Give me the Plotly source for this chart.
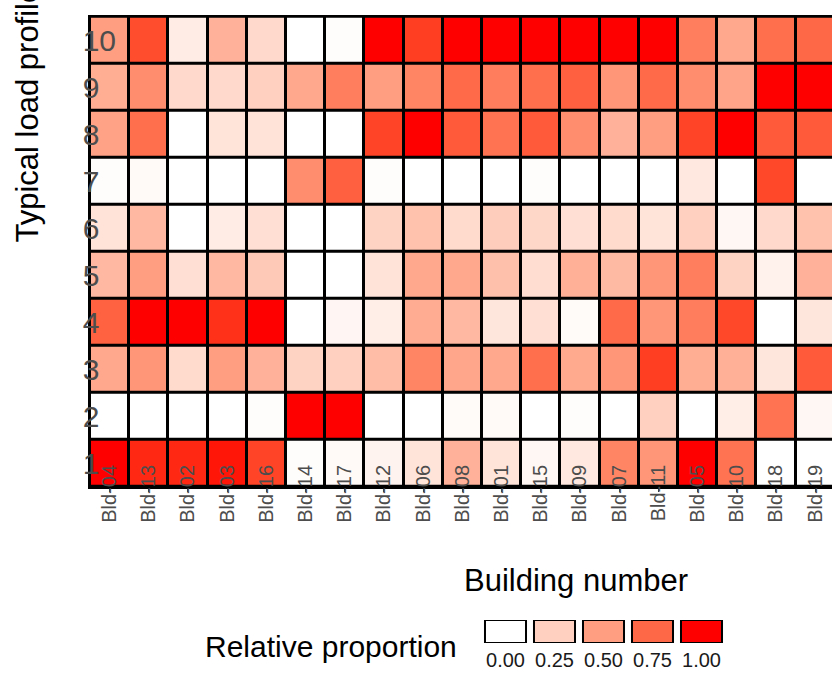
import plotly.graph_objects as go

# Buildings in display order and the typical load profiles (rows)
buildings = ["Bld-04", "Bld-13", "Bld-02", "Bld-03", "Bld-16", "Bld-14", "Bld-17",
             "Bld-12", "Bld-06", "Bld-08", "Bld-01", "Bld-15", "Bld-09", "Bld-07",
             "Bld-11", "Bld-05", "Bld-10", "Bld-18", "Bld-19"]
profiles = [1, 2, 3, 4, 5, 6, 7, 8, 9, 10]

# Relative proportion of each typical load profile per building
profile_1 = [1.00, 0.95, 0.95, 0.98, 0.88, 0.01, 0.03, 0.06, 0.14, 0.40, 0.14, 0.04, 0.12, 0.62, 0.54, 1.00, 0.70, 0.00, 0.00]
profile_2 = [0.00, 0.00, 0.00, 0.00, 0.01, 1.00, 1.00, 0.00, 0.00, 0.02, 0.03, 0.00, 0.01, 0.00, 0.25, 0.00, 0.09, 0.70, 0.04]
profile_3 = [0.45, 0.54, 0.19, 0.50, 0.40, 0.23, 0.25, 0.35, 0.62, 0.46, 0.45, 0.72, 0.44, 0.54, 0.90, 0.42, 0.41, 0.13, 0.80]
profile_4 = [0.77, 1.00, 1.00, 0.93, 1.00, 0.00, 0.05, 0.09, 0.43, 0.37, 0.13, 0.17, 0.02, 0.74, 0.54, 0.66, 0.87, 0.00, 0.13]
profile_5 = [0.37, 0.50, 0.17, 0.37, 0.28, 0.00, 0.00, 0.15, 0.45, 0.45, 0.33, 0.18, 0.41, 0.36, 0.54, 0.65, 0.23, 0.07, 0.40]
profile_6 = [0.15, 0.37, 0.00, 0.10, 0.17, 0.00, 0.00, 0.23, 0.32, 0.19, 0.26, 0.21, 0.17, 0.19, 0.14, 0.25, 0.04, 0.20, 0.32]
profile_7 = [0.01, 0.03, 0.00, 0.00, 0.00, 0.58, 0.78, 0.01, 0.00, 0.00, 0.00, 0.01, 0.00, 0.00, 0.00, 0.12, 0.00, 0.87, 0.00]
profile_8 = [0.48, 0.72, 0.00, 0.14, 0.15, 0.00, 0.00, 0.88, 1.00, 0.80, 0.70, 0.80, 0.58, 0.40, 0.50, 0.88, 1.00, 0.80, 0.80]
profile_9 = [0.42, 0.58, 0.20, 0.20, 0.25, 0.45, 0.65, 0.50, 0.62, 0.74, 0.66, 0.72, 0.78, 0.54, 0.74, 0.58, 0.47, 1.00, 1.00]
profile_10 = [0.50, 0.85, 0.10, 0.40, 0.20, 0.00, 0.01, 1.00, 0.90, 1.00, 1.00, 1.00, 1.00, 1.00, 1.00, 0.65, 0.45, 0.72, 0.75]

legend_values = [0.00, 0.25, 0.50, 0.75, 1.00]
legend_labels = ["0.00", "0.25", "0.50", "0.75", "1.00"]

z = [profile_1, profile_2, profile_3, profile_4, profile_5,
     profile_6, profile_7, profile_8, profile_9, profile_10]


# White -> red gradient interpolated in CIE Lab space
def _lin(c):
    c = c / 255.0
    return c / 12.92 if c <= 0.04045 else ((c + 0.055) / 1.055) ** 2.4


def _gam(c):
    c = max(0.0, min(1.0, c))
    v = 12.92 * c if c <= 0.0031308 else 1.055 * c ** (1 / 2.4) - 0.055
    return int(round(v * 255))


def rgb_to_lab(r, g, b):
    r, g, b = _lin(r), _lin(g), _lin(b)
    x = (0.4124 * r + 0.3576 * g + 0.1805 * b) / 0.95047
    y = (0.2126 * r + 0.7152 * g + 0.0722 * b)
    zz = (0.0193 * r + 0.1192 * g + 0.9505 * b) / 1.08883

    def f(t):
        return t ** (1 / 3) if t > 0.008856 else 7.787 * t + 16 / 116
    fx, fy, fz = f(x), f(y), f(zz)
    return 116 * fy - 16, 500 * (fx - fy), 200 * (fy - fz)


def lab_to_rgb(L, a, b):
    fy = (L + 16) / 116
    fx = fy + a / 500
    fz = fy - b / 200

    def finv(t):
        return t ** 3 if t ** 3 > 0.008856 else (t - 16 / 116) / 7.787
    x = 0.95047 * finv(fx)
    y = finv(fy)
    zz = 1.08883 * finv(fz)
    r = 3.2406 * x - 1.5372 * y - 0.4986 * zz
    g = -0.9689 * x + 1.8758 * y + 0.0415 * zz
    bb = 0.0557 * x - 0.2040 * y + 1.0570 * zz
    return _gam(r), _gam(g), _gam(bb)


lo = rgb_to_lab(255, 255, 255)
hi = rgb_to_lab(255, 0, 0)
n_stops = 41
colorscale = []
for i in range(n_stops):
    t = i / (n_stops - 1)
    lab = [lo[k] + (hi[k] - lo[k]) * t for k in range(3)]
    r, g, b = lab_to_rgb(*lab)
    colorscale.append([t, f"rgb({r},{g},{b})"])

W, H = 832, 676
FONT = "Liberation Sans"
NBSP = "\u00a0"


def px_x(p):
    return p / W


def px_y(p):
    return 1 - p / H


# profile labels padded so single digits line up on the left like "10"
profile_text = [str(p) + NBSP * (2 * (2 - len(str(p)))) for p in profiles]

fig = go.Figure()

fig.add_trace(go.Heatmap(
    x=buildings, y=profiles, z=z,
    colorscale=colorscale, zmin=0, zmax=1,
    xgap=3, ygap=3, showscale=False,
    hovertemplate="%{x}<br>Profile %{y}<br>%{z:.2f}<extra></extra>",
))

# Discrete key for the fill scale
fig.add_trace(go.Bar(
    x=legend_labels, y=[1] * len(legend_values),
    marker=dict(color=legend_values, colorscale=colorscale, cmin=0, cmax=1,
                line=dict(color="black", width=2)),
    width=0.837, xaxis="x2", yaxis="y2", showlegend=False, hoverinfo="skip",
))

fig.update_layout(
    width=W, height=H,
    margin=dict(l=0, r=0, t=0, b=0),
    paper_bgcolor="white", plot_bgcolor="white",
    template="none",
    showlegend=False,
    font=dict(family=FONT, color="black"),
    xaxis=dict(
        domain=[px_x(90), 1.0],
        type="category", range=[-0.5, 18.43],
        tickangle=-90, tickfont=dict(size=20, color="#4D4D4D", family=FONT),
        ticks="outside", ticklen=3, tickcolor="#333333", tickwidth=1,
        ticklabelstandoff=-35,
        showline=True, mirror=True, linecolor="black", linewidth=2,
        showgrid=False, zeroline=False, automargin=False, fixedrange=True,
    ),
    yaxis=dict(
        domain=[px_y(487), px_y(16.7)],
        range=[0.5, 10.5], tickvals=profiles, ticktext=profile_text,
        ticklabelstandoff=-34,
        tickfont=dict(size=30, color="#4D4D4D", family=FONT),
        ticks="", showline=True, linecolor="black", linewidth=2,
        showgrid=False, zeroline=False, automargin=False, fixedrange=True,
    ),
    xaxis2=dict(
        domain=[px_x(481), px_x(726)], anchor="y2",
        type="category", range=[-0.5, 4.5],
        tickfont=dict(size=20, color="#1A1A1A", family=FONT),
        ticks="", ticklabelstandoff=3,
        showline=False, showgrid=False, zeroline=False,
        automargin=False, fixedrange=True,
    ),
    yaxis2=dict(
        domain=[px_y(643), px_y(620)], anchor="x2",
        range=[0, 1], visible=False, fixedrange=True,
    ),
    shapes=[dict(type="rect", xref="x domain", yref="y domain",
                 x0=0, x1=1, y0=0, y1=1, fillcolor="black",
                 line=dict(width=0), layer="below")],
    annotations=[
        dict(text="Typical load profile", textangle=-90, showarrow=False,
             xref="paper", yref="paper", x=px_x(27), y=px_y(245),
             xanchor="center", yanchor="bottom",
             font=dict(size=31, color="black", family=FONT)),
        dict(text="Building number", showarrow=False,
             xref="paper", yref="paper", x=px_x(576), y=px_y(580),
             xanchor="center", yanchor="middle",
             font=dict(size=31, color="black", family=FONT)),
        dict(text="Relative proportion", showarrow=False,
             xref="paper", yref="paper", x=px_x(331), y=px_y(646),
             xanchor="center", yanchor="middle",
             font=dict(size=30, color="black", family=FONT)),
    ],
)

fig.write_html("out.html")
